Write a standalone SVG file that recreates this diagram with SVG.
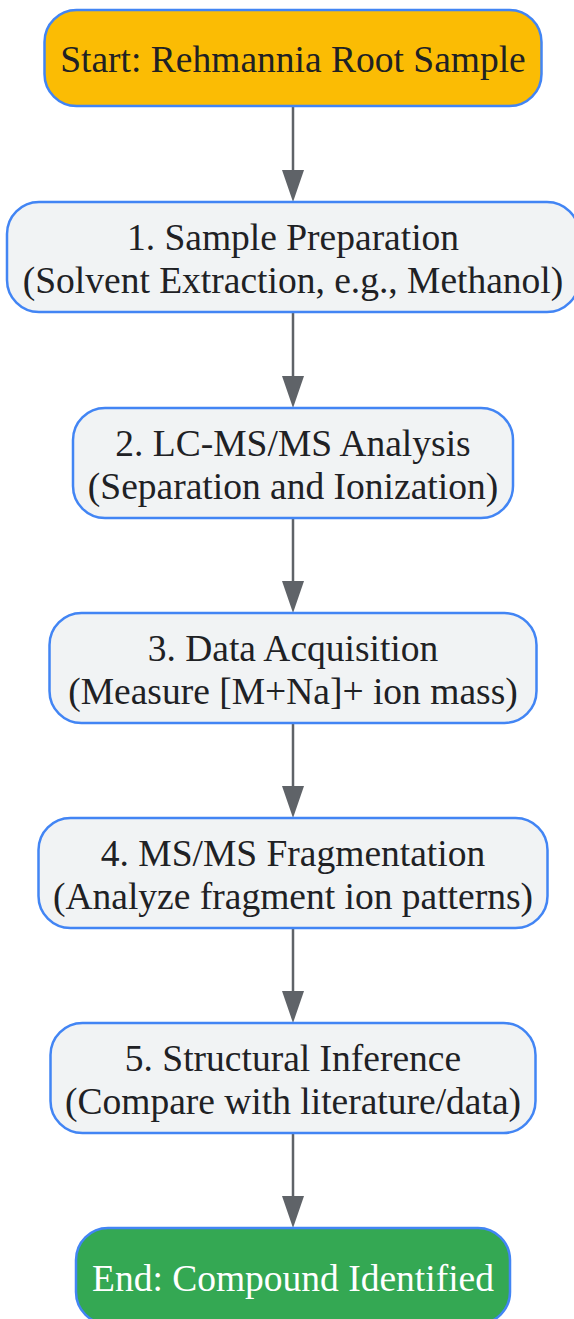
<svg xmlns="http://www.w3.org/2000/svg" width="574" height="1319" viewBox="0 0 574 1319">
<style>
.n{stroke:#4285f4;stroke-width:2.5}
.p{fill:#f1f3f4}
.t{font-family:"Liberation Serif","Times New Roman",serif;font-size:37.5px;fill:#202124;text-anchor:middle}
.w{fill:#ffffff}
.e{stroke:#5f6368;stroke-width:2.5;fill:none}
.h{fill:#5f6368}
</style>
<rect width="574" height="1319" fill="#ffffff"/>
<g id="connectors">
<line class="e" x1="293" y1="106" x2="293" y2="170"/><path class="h" d="M282,170 L304,170 L293,202 Z"/>
<line class="e" x1="293" y1="312" x2="293" y2="376"/><path class="h" d="M282,376 L304,376 L293,408 Z"/>
<line class="e" x1="293" y1="518" x2="293" y2="581"/><path class="h" d="M282,581 L304,581 L293,613 Z"/>
<line class="e" x1="293" y1="723" x2="293" y2="786"/><path class="h" d="M282,786 L304,786 L293,818 Z"/>
<line class="e" x1="293" y1="928" x2="293" y2="991"/><path class="h" d="M282,991 L304,991 L293,1023 Z"/>
<line class="e" x1="293" y1="1133" x2="293" y2="1196"/><path class="h" d="M282,1196 L304,1196 L293,1228 Z"/>
</g>
<g id="start">
<rect class="n" x="44.5" y="10" width="497" height="96" rx="32" fill="#fbbc04"/>
<text class="t" x="293" y="72">Start: Rehmannia Root Sample</text>
</g>
<g id="step1">
<rect class="n p" x="7" y="202" width="572" height="110" rx="32"/>
<text class="t" x="293" y="249.5">1. Sample Preparation</text>
<text class="t" x="293" y="293">(Solvent Extraction, e.g., Methanol)</text>
</g>
<g id="step2">
<rect class="n p" x="73" y="408" width="440" height="110" rx="32"/>
<text class="t" x="293" y="455.5">2. LC-MS/MS Analysis</text>
<text class="t" x="293" y="499">(Separation and Ionization)</text>
</g>
<g id="step3">
<rect class="n p" x="49.5" y="613" width="487" height="110" rx="32"/>
<text class="t" x="293" y="660.5">3. Data Acquisition</text>
<text class="t" x="293" y="704">(Measure [M+Na]+ ion mass)</text>
</g>
<g id="step4">
<rect class="n p" x="38.5" y="818" width="509" height="110" rx="32"/>
<text class="t" x="293" y="865.5">4. MS/MS Fragmentation</text>
<text class="t" x="293" y="909">(Analyze fragment ion patterns)</text>
</g>
<g id="step5">
<rect class="n p" x="50.5" y="1023" width="485" height="110" rx="32"/>
<text class="t" x="293" y="1070.5">5. Structural Inference</text>
<text class="t" x="293" y="1114">(Compare with literature/data)</text>
</g>
<g id="end">
<rect class="n" x="76" y="1228" width="434" height="96" rx="32" fill="#34a853"/>
<text class="t w" x="293" y="1290.5">End: Compound Identified</text>
</g>
</svg>
